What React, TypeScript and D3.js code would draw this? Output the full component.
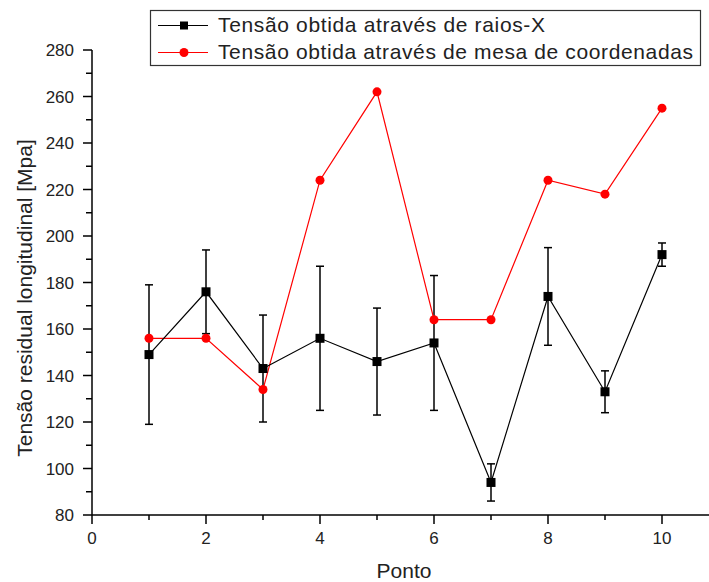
import * as d3 from "d3";
import React from "react";

const pontos = [1, 2, 3, 4, 5, 6, 7, 8, 9, 10];
const raiosX = [149, 176, 143, 156, 146, 154, 94, 174, 133, 192];
const raiosXErr = [30, 18, 23, 31, 23, 29, 8, 21, 9, 5];
const mesa = [156, 156, 134, 224, 262, 164, 164, 224, 218, 255];
const xTicks = [0, 2, 4, 6, 8, 10];
const yTicks = [80, 100, 120, 140, 160, 180, 200, 220, 240, 260, 280];
const legendLabels = [
  "Tensão obtida através de raios-X",
  "Tensão obtida através de mesa de coordenadas",
];

const width = 709;
const height = 582;
const font = "'Liberation Sans', Arial, sans-serif";

export default function App() {
  const x = d3.scaleLinear().domain([0, 11]).range([92, 719]);
  const y = d3.scaleLinear().domain([80, 280]).range([515, 50]);

  const line = d3
    .line<number>()
    .x((_, i) => x(pontos[i]))
    .y((d) => y(d));

  const minorX = d3.range(1, 11, 2);
  const minorY = d3.range(90, 280, 20);

  return (
    <svg width={width} height={height} style={{ position: "absolute", left: 0, top: 0, background: "#fff" }}>
      {/* axes */}
      <line x1={x(0)} x2={width} y1={y(80)} y2={y(80)} stroke="#000" strokeWidth={1.5} />
      <line x1={x(0)} x2={x(0)} y1={y(80)} y2={y(280)} stroke="#000" strokeWidth={1.5} />
      {xTicks.map((t) => (
        <g key={"xt" + t}>
          <line x1={x(t)} x2={x(t)} y1={y(80)} y2={y(80) + 9} stroke="#000" strokeWidth={1.5} />
          <text x={x(t)} y={y(80) + 29} textAnchor="middle" fontFamily={font} fontSize={17} fill="#222">
            {t}
          </text>
        </g>
      ))}
      {minorX.map((t) => (
        <line key={"xm" + t} x1={x(t)} x2={x(t)} y1={y(80)} y2={y(80) + 5} stroke="#000" strokeWidth={1.5} />
      ))}
      {yTicks.map((t) => (
        <g key={"yt" + t}>
          <line x1={x(0) - 9} x2={x(0)} y1={y(t)} y2={y(t)} stroke="#000" strokeWidth={1.5} />
          <text x={x(0) - 18} y={y(t) + 6} textAnchor="end" fontFamily={font} fontSize={17} fill="#222">
            {t}
          </text>
        </g>
      ))}
      {minorY.map((t) => (
        <line key={"ym" + t} x1={x(0) - 6} x2={x(0)} y1={y(t)} y2={y(t)} stroke="#000" strokeWidth={1.5} />
      ))}
      <text x={404} y={578} textAnchor="middle" fontFamily={font} fontSize={21} fill="#222">
        Ponto
      </text>
      <text
        transform={`translate(32, 298) rotate(-90)`}
        textAnchor="middle"
        fontFamily={font}
        fontSize={21}
        fill="#222"
      >
        Tensão residual longitudinal [Mpa]
      </text>

      {/* error bars */}
      {raiosX.map((v, i) => {
        const cx = x(pontos[i]);
        const lo = y(v - raiosXErr[i]);
        const hi = y(v + raiosXErr[i]);
        return (
          <g key={"e" + i} stroke="#000" strokeWidth={1.5}>
            <line x1={cx} x2={cx} y1={lo} y2={hi} />
            <line x1={cx - 4} x2={cx + 4} y1={lo} y2={lo} />
            <line x1={cx - 4} x2={cx + 4} y1={hi} y2={hi} />
          </g>
        );
      })}

      {/* series */}
      <path d={line(mesa) || ""} fill="none" stroke="#ff0000" strokeWidth={1.2} />
      <path d={line(raiosX) || ""} fill="none" stroke="#000" strokeWidth={1.2} />
      {mesa.map((v, i) => (
        <circle key={"m" + i} cx={x(pontos[i])} cy={y(v)} r={4.5} fill="#ff0000" />
      ))}
      {raiosX.map((v, i) => (
        <rect key={"r" + i} x={x(pontos[i]) - 4.5} y={y(v) - 4.5} width={9} height={9} fill="#000" />
      ))}

      {/* legend */}
      <rect x={150.5} y={10.5} width={550} height={55} fill="#fff" stroke="#333" strokeWidth={1.2} />
      <line x1={158} x2={208} y1={25.5} y2={25.5} stroke="#000" strokeWidth={1.2} />
      <rect x={180} y={21.5} width={8} height={8} fill="#000" />
      <text x={218} y={32} fontFamily={font} fontSize={21} fill="#222" textLength={327} lengthAdjust="spacing">
        {legendLabels[0]}
      </text>
      <line x1={158} x2={208} y1={52.5} y2={52.5} stroke="#ff0000" strokeWidth={1.2} />
      <circle cx={184} cy={52.5} r={4.5} fill="#ff0000" />
      <text x={218} y={59} fontFamily={font} fontSize={21} fill="#222" textLength={475} lengthAdjust="spacing">
        {legendLabels[1]}
      </text>
    </svg>
  );
}
